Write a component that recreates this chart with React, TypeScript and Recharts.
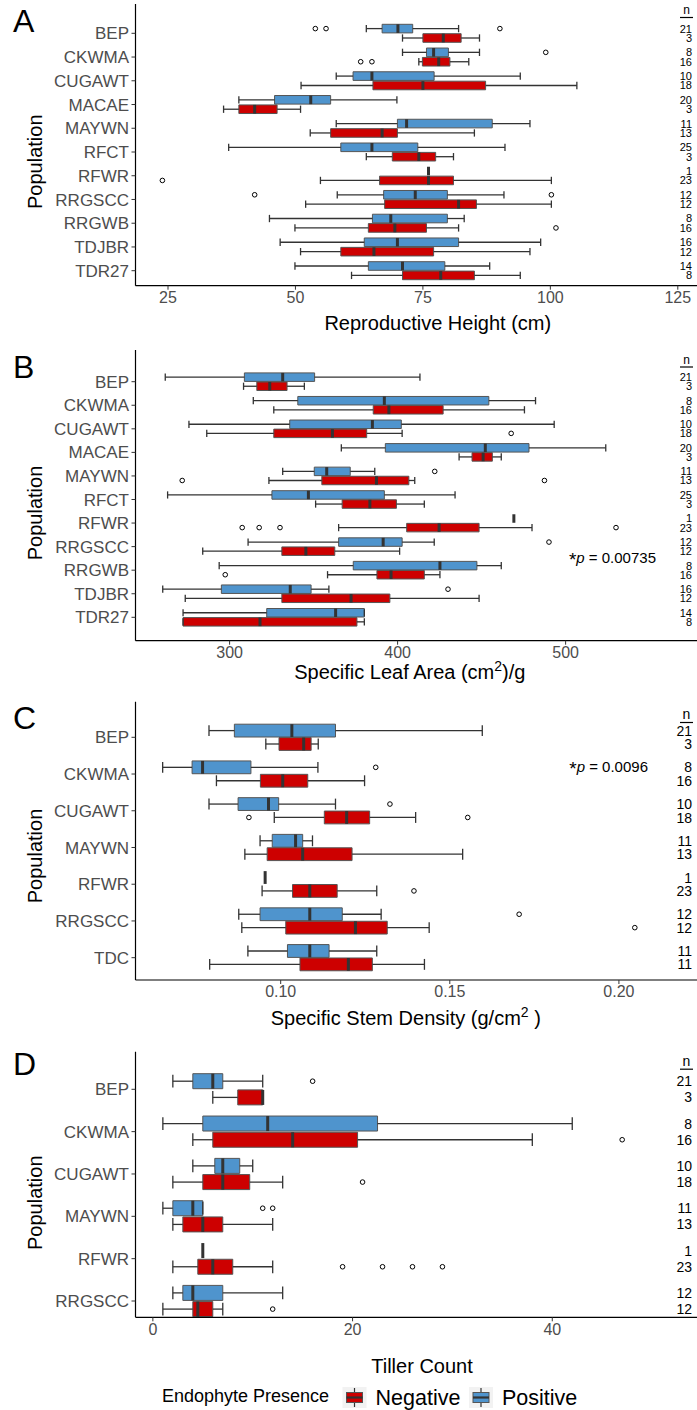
import React from 'react'
import { ComposedChart, XAxis, YAxis, Scatter, ReferenceArea, ReferenceLine } from 'recharts'

const FONT = '"Liberation Sans", Arial, Helvetica, sans-serif'
const POS_FILL = '#4f94cd'
const NEG_FILL = '#cd0000'

// each box: [lower whisker, q1, median, q3, upper whisker]
type Stat = number[]

// ---- A: reproductive height
const heightCats = ['BEP', 'CKWMA', 'CUGAWT', 'MACAE', 'MAYWN', 'RFCT', 'RFWR', 'RRGSCC', 'RRGWB', 'TDJBR', 'TDR27']
const heightPos: Stat[] = [
  [63.9, 67.0, 70.1, 73.0, 82.0],
  [71.0, 75.7, 77.1, 80.0, 86.1],
  [58.0, 61.3, 65.0, 77.2, 94.1],
  [38.9, 45.9, 53.0, 56.9, 69.9],
  [58.0, 70.0, 71.8, 88.6, 96.0],
  [36.9, 58.9, 65.0, 74.0, 91.1],
  [76.1, 76.1, 76.1, 76.1, 76.1],
  [58.2, 67.3, 73.5, 79.8, 90.9],
  [44.9, 65.1, 68.7, 79.8, 83.1],
  [47.0, 63.5, 70.0, 82.0, 98.1],
  [49.9, 64.3, 71.0, 79.3, 88.1],
]
const heightNeg: Stat[] = [
  [71.0, 75.0, 79.0, 82.5, 86.1],
  [74.2, 74.9, 78.1, 80.3, 84.0],
  [51.1, 65.2, 75.0, 87.3, 105.2],
  [35.9, 38.9, 42.0, 46.4, 51.0],
  [52.9, 56.9, 67.0, 70.0, 85.1],
  [63.9, 69.0, 74.2, 77.5, 81.0],
  [54.9, 66.5, 76.1, 81.0, 100.2],
  [52.0, 67.5, 82.0, 85.5, 100.2],
  [49.9, 64.3, 69.5, 75.7, 82.0],
  [51.0, 58.9, 65.4, 77.1, 96.0],
  [61.0, 71.0, 78.5, 85.1, 94.1],
]
const heightPosOut = [[53.9, 56.0, 90.1], [99.1], [], [], [], [], [], [42.0, 100.2], [], [], []]
const heightNegOut = [[], [62.8, 65.0], [], [], [], [], [23.9], [], [101.1], [], []]
const heightNPos = [21, 8, 10, 20, 11, 25, 1, 12, 8, 16, 14]
const heightNNeg = [3, 16, 18, 3, 13, 3, 23, 12, 16, 12, 8]

// ---- B: specific leaf area
const slaCats = heightCats
const slaPos: Stat[] = [
  [261.7, 308.8, 331.6, 350.6, 413.3],
  [314.1, 340.6, 392.1, 454.3, 482.1],
  [275.8, 335.8, 385.0, 402.2, 493.2],
  [366.5, 392.7, 452.2, 478.2, 523.9],
  [331.6, 350.4, 357.8, 371.8, 386.4],
  [263.1, 325.2, 346.9, 392.1, 434.2],
  [469.2, 469.2, 469.2, 469.2, 469.2],
  [311.0, 364.9, 391.4, 402.7, 421.8],
  [293.8, 373.6, 425.2, 447.2, 461.7],
  [260.2, 295.1, 336.1, 348.5, 359.1],
  [272.3, 322.1, 363.1, 380.2, 380.2],
]
const slaNeg: Stat[] = [
  [308.3, 316.2, 323.9, 334.2, 344.5],
  [326.3, 385.5, 394.8, 427.1, 475.5],
  [286.4, 326.3, 361.2, 381.6, 402.7],
  [436.6, 444.3, 450.9, 456.4, 461.7],
  [323.4, 354.9, 387.4, 406.7, 410.2],
  [351.2, 367.0, 383.5, 399.3, 415.9],
  [364.9, 405.4, 424.7, 448.5, 480.0],
  [284.0, 331.1, 345.4, 362.6, 401.2],
  [358.3, 387.7, 396.1, 415.9, 425.2],
  [273.6, 331.1, 372.3, 395.4, 448.5],
  [272.3, 272.3, 318.1, 375.8, 380.2],
]
const slaPosOut = [[], [], [], [], [422.1], [], [], [490.1], [], [430.0], []]
const slaNegOut = [[], [], [467.6], [], [271.8, 487.4], [], [307.5, 317.6, 330.0, 530.0], [], [297.4], [], []]
const slaNPos = [21, 8, 10, 20, 11, 25, 1, 12, 8, 16, 14]
const slaNNeg = [3, 16, 18, 3, 13, 3, 23, 12, 16, 12, 8]

// ---- C: specific stem density
const stemCats = ['BEP', 'CKWMA', 'CUGAWT', 'MAYWN', 'RFWR', 'RRGSCC', 'TDC']
const stemPos: Stat[] = [
  [0.0788, 0.0863, 0.1033, 0.1162, 0.1596],
  [0.0651, 0.0738, 0.0769, 0.0912, 0.111],
  [0.0788, 0.0874, 0.0964, 0.0994, 0.1162],
  [0.0939, 0.0975, 0.1044, 0.1065, 0.1094],
  [0.0954, 0.0954, 0.0954, 0.0954, 0.0954],
  [0.0876, 0.0939, 0.1086, 0.1182, 0.1297],
  [0.0903, 0.102, 0.1086, 0.1143, 0.1284],
]
const stemNeg: Stat[] = [
  [0.0956, 0.0995, 0.1068, 0.109, 0.1111],
  [0.081, 0.094, 0.1006, 0.108, 0.1248],
  [0.0981, 0.1129, 0.1195, 0.1263, 0.1399],
  [0.0894, 0.096, 0.1065, 0.1211, 0.1538],
  [0.0945, 0.1035, 0.1086, 0.1167, 0.1284],
  [0.0885, 0.1015, 0.1221, 0.1315, 0.1439],
  [0.079, 0.1057, 0.12, 0.1271, 0.1425],
]
const stemPosOut = [[], [0.1281], [0.1323], [], [], [0.1705], []]
const stemNegOut = [[], [], [0.0906, 0.1553], [], [0.1394], [0.2047], []]
const stemNPos = [21, 8, 10, 11, 1, 12, 11]
const stemNNeg = [3, 16, 18, 13, 23, 12, 11]

// ---- D: tiller count
const tillerCats = ['BEP', 'CKWMA', 'CUGAWT', 'MAYWN', 'RFWR', 'RRGSCC']
const tillerPos: Stat[] = [
  [2, 4, 6, 7, 11],
  [1, 5, 11.5, 22.5, 42],
  [4, 6.2, 7, 8.7, 10],
  [1, 2, 4, 5, 5],
  [5, 5, 5, 5, 5],
  [2, 3, 4, 7, 13],
]
const tillerNeg: Stat[] = [
  [6, 8.5, 11, 11, 11],
  [4, 6, 14, 20.5, 38],
  [2, 5, 7, 9.7, 13],
  [2, 3, 5, 7, 12],
  [2, 4.5, 6, 8, 12],
  [1, 4, 4.5, 6, 7],
]
const tillerPosOut = [[16], [], [], [11, 12], [], []]
const tillerNegOut = [[], [47], [21], [], [19, 23, 26, 29], [12]]
const tillerNPos = [21, 8, 10, 11, 1, 12]
const tillerNNeg = [3, 16, 18, 13, 23, 12]

interface PanelCfg {
  cats: string[]
  pos: Stat[]
  neg: Stat[]
  posOut: number[][]
  negOut: number[][]
  nPos: number[]
  nNeg: number[]
  chartTop: number
  chartH: number
  plotTop: number
  plotBottom: number
  c0: number
  step: number
  boxH: number
  gap: number
  xDomain: [number, number]
  xTicks: number[]
  xFmt?: (v: number) => string
  title: React.ReactNode
  titleX: number
  titleY: number
  popY: number
  nSize: number
}

function boxMarks(s: Stat, yc: number, half: number, color: string, key: string, n: number, nSize: number) {
  const [lo, q1, med, q3, hi] = s
  const cap = half * 0.85
  const line = { stroke: '#333', strokeWidth: 1.3 }
  const out = [
    <ReferenceLine key={key + 'wl'} segment={[{ x: lo, y: yc }, { x: q1, y: yc }]} {...line} />,
    <ReferenceLine key={key + 'wh'} segment={[{ x: q3, y: yc }, { x: hi, y: yc }]} {...line} />,
    <ReferenceLine key={key + 'cl'} segment={[{ x: lo, y: yc - cap }, { x: lo, y: yc + cap }]} {...line} />,
    <ReferenceLine key={key + 'ch'} segment={[{ x: hi, y: yc - cap }, { x: hi, y: yc + cap }]} {...line} />,
  ]
  if (q3 > q1) {
    out.push(
      <ReferenceArea key={key + 'b'} x1={q1} x2={q3} y1={yc - half} y2={yc + half}
        fill={color} fillOpacity={1} stroke="#555" strokeWidth={1} />
    )
  }
  out.push(
    <ReferenceLine key={key + 'm'} segment={[{ x: med, y: yc - half }, { x: med, y: yc + half }]}
      stroke="#333" strokeWidth={3} />
  )
  // sample size, printed in the right-hand column on the box's row
  out.push(
    <ReferenceLine
      key={key + 'n'}
      y={yc}
      stroke="none"
      strokeOpacity={0}
      label={{
        content: (p: any) => (
          <text x={692} y={p.viewBox ? p.viewBox.y : 0} dy="0.36em" textAnchor="end" fontSize={nSize} fill="#000">
            {n}
          </text>
        ),
      }}
    />
  )
  return out
}

function Panel({ cfg }: { cfg: PanelCfg }) {
  const { cats, step } = cfg
  const yMin = (cfg.plotTop - cfg.c0) / step
  const yMax = (cfg.plotBottom - cfg.c0) / step
  const off = (cfg.boxH / 2 + cfg.gap / 2) / step
  const half = cfg.boxH / 2 / step

  const marks: React.ReactElement[] = []
  const outliers: { x: number; y: number }[] = []
  cats.forEach((c, i) => {
    marks.push(...boxMarks(cfg.pos[i], i - off, half, POS_FILL, c + 'p', cfg.nPos[i], cfg.nSize))
    marks.push(...boxMarks(cfg.neg[i], i + off, half, NEG_FILL, c + 'n', cfg.nNeg[i], cfg.nSize))
    cfg.posOut[i].forEach((v) => outliers.push({ x: v, y: i - off }))
    cfg.negOut[i].forEach((v) => outliers.push({ x: v, y: i + off }))
  })

  return (
    <div style={{ position: 'absolute', left: 0, top: cfg.chartTop }}>
      <ComposedChart
        width={760}
        height={cfg.chartH}
        margin={{
          top: cfg.plotTop - cfg.chartTop,
          right: 20,
          left: 55.5,
          bottom: cfg.chartH - (cfg.plotBottom - cfg.chartTop) - 30,
        }}
      >
        <XAxis
          type="number"
          dataKey="x"
          domain={cfg.xDomain}
          allowDataOverflow
          ticks={cfg.xTicks}
          interval={0}
          tickFormatter={cfg.xFmt}
          height={30}
          tickSize={4}
          tickMargin={2}
          axisLine={{ stroke: '#000', strokeWidth: 1.2 }}
          tickLine={{ stroke: '#333' }}
          tick={{ fill: '#4d4d4d', fontSize: 16 }}
          label={{
            content: () => (
              <text x={cfg.titleX} y={cfg.titleY - cfg.chartTop} textAnchor="middle" fontSize={20} fill="#000">
                {cfg.title}
              </text>
            ),
          }}
        />
        <XAxis
          xAxisId="top"
          orientation="top"
          type="number"
          domain={cfg.xDomain}
          allowDataOverflow
          height={0}
          tick={false}
          tickLine={false}
          axisLine={{ stroke: '#333', strokeWidth: 1.2 }}
        />
        <YAxis
          type="number"
          dataKey="y"
          domain={[yMin, yMax]}
          allowDataOverflow
          reversed
          ticks={cats.map((_, i) => i)}
          interval={0}
          tickFormatter={(v: number) => cats[v]}
          width={80}
          tickSize={4}
          tickMargin={2.5}
          axisLine={{ stroke: '#000', strokeWidth: 1.2 }}
          tickLine={{ stroke: '#333' }}
          tick={{ fill: '#4d4d4d', fontSize: 17 }}
          label={{
            content: () => (
              <text
                transform={`translate(41.5, ${cfg.popY - cfg.chartTop}) rotate(-90)`}
                textAnchor="middle"
                fontSize={20}
                fill="#000"
              >
                Population
              </text>
            ),
          }}
        />
        {marks}
        <Scatter
          data={outliers}
          isAnimationActive={false}
          shape={(p: any) => <circle cx={p.cx} cy={p.cy} r={2.3} fill="#fff" stroke="#000" strokeWidth={1} />}
        />
      </ComposedChart>
    </div>
  )
}

const panels: PanelCfg[] = [
  {
    cats: heightCats, pos: heightPos, neg: heightNeg, posOut: heightPosOut, negOut: heightNegOut,
    nPos: heightNPos, nNeg: heightNNeg,
    chartTop: 0, chartH: 340, plotTop: 4, plotBottom: 285.7, c0: 33.3, step: 23.74, boxH: 8.6, gap: 0.8,
    xDomain: [18.625, 137.2], xTicks: [25, 50, 75, 100, 125],
    title: 'Reproductive Height (cm)', titleX: 437.8, titleY: 329.5, popY: 161.7, nSize: 11,
  },
  {
    cats: slaCats, pos: slaPos, neg: slaNeg, posOut: slaPosOut, negOut: slaNegOut,
    nPos: slaNPos, nNeg: slaNNeg,
    chartTop: 340, chartH: 350, plotTop: 350, plotBottom: 640.7, c0: 381.7, step: 23.56, boxH: 8.5, gap: 0.6,
    xDomain: [243.99, 603.8], xTicks: [300, 400, 500],
    title: (
      <>
        Specific Leaf Area (cm<tspan dy={-8} fontSize={14}>2</tspan>
        <tspan dy={8}>)/g</tspan>
      </>
    ),
    titleX: 409.8, titleY: 679.3, popY: 513, nSize: 11,
  },
  {
    cats: stemCats, pos: stemPos, neg: stemNeg, posOut: stemPosOut, negOut: stemNegOut,
    nPos: stemNPos, nNeg: stemNNeg,
    chartTop: 690, chartH: 345, plotTop: 701.7, plotBottom: 980, c0: 737.3, step: 36.73, boxH: 12.8, gap: 0.6,
    xDomain: [0.05707, 0.2358], xTicks: [0.1, 0.15, 0.2], xFmt: (v: number) => v.toFixed(2),
    title: (
      <>
        Specific Stem Density (g/cm<tspan dy={-8} fontSize={14}>2</tspan>
        <tspan dy={8}> )</tspan>
      </>
    ),
    titleX: 405.8, titleY: 1025, popY: 856, nSize: 14,
  },
  {
    cats: tillerCats, pos: tillerPos, neg: tillerNeg, posOut: tillerPosOut, negOut: tillerNegOut,
    nPos: tillerNPos, nNeg: tillerNNeg,
    chartTop: 1040, chartH: 345, plotTop: 1051.7, plotBottom: 1317.3, c0: 1089.3, step: 42.34, boxH: 15, gap: 1.2,
    xDomain: [-1.74, 58.8], xTicks: [0, 20, 40],
    title: 'Tiller Count', titleX: 422, titleY: 1372.7, popY: 1202.7, nSize: 14,
  },
]

const letters = [
  { t: 'A', y: 31.7 },
  { t: 'B', y: 378.3 },
  { t: 'C', y: 729.3 },
  { t: 'D', y: 1075 },
]
const nHeaders = [
  { y: 14, size: 12 },
  { y: 363.5, size: 12 },
  { y: 719, size: 14 },
  { y: 1065.7, size: 14 },
]

function LegendKey({ x, color }: { x: number; color: string }) {
  return (
    <g>
      <rect x={x} y={1387} width={24} height={21} fill="#f2f2f2" />
      <line x1={x + 12} x2={x + 12} y1={1388} y2={1407} stroke="#333" strokeWidth={1.2} />
      <rect x={x + 4} y={1392.5} width={16} height={10} fill={color} stroke="#555" strokeWidth={1} />
      <line x1={x + 4} x2={x + 20} y1={1397.5} y2={1397.5} stroke="#333" strokeWidth={2.2} />
    </g>
  )
}

export default function App() {
  return (
    <div
      style={{
        position: 'absolute',
        left: 0,
        top: 0,
        width: 697,
        height: 1410,
        overflow: 'hidden',
        background: '#fff',
        fontFamily: FONT,
      }}
    >
      {panels.map((p, i) => (
        <Panel key={i} cfg={p} />
      ))}
      <svg
        width={697}
        height={1410}
        style={{ position: 'absolute', left: 0, top: 0, pointerEvents: 'none', fontFamily: FONT }}
      >
        {letters.map((l) => (
          <text key={l.t} x={13} y={l.y} fontSize={32} fill="#000">
            {l.t}
          </text>
        ))}
        {nHeaders.map((h, i) => (
          <g key={i}>
            <text x={686.5} y={h.y} textAnchor="middle" fontSize={h.size} fill="#000">
              n
            </text>
            <line x1={680} x2={693} y1={h.y + 3.5} y2={h.y + 3.5} stroke="#000" strokeWidth={1.2} />
          </g>
        ))}
        <text x={656} y={562.7} textAnchor="end" fontSize={15} fill="#000">
          <tspan fontSize={19} dy={3}>*</tspan>
          <tspan fontStyle="italic" dy={-3}>p</tspan> = 0.00735
        </text>
        <text x={648} y={771.7} textAnchor="end" fontSize={15} fill="#000">
          <tspan fontSize={19} dy={3}>*</tspan>
          <tspan fontStyle="italic" dy={-3}>p</tspan> = 0.0096
        </text>
        <text x={162} y={1402} fontSize={18} fill="#000">
          Endophyte Presence
        </text>
        <LegendKey x={342.5} color={NEG_FILL} />
        <text x={375.6} y={1404.5} fontSize={21.5} fill="#000">
          Negative
        </text>
        <LegendKey x={469} color={POS_FILL} />
        <text x={502} y={1404.5} fontSize={21.5} fill="#000">
          Positive
        </text>
      </svg>
    </div>
  )
}
